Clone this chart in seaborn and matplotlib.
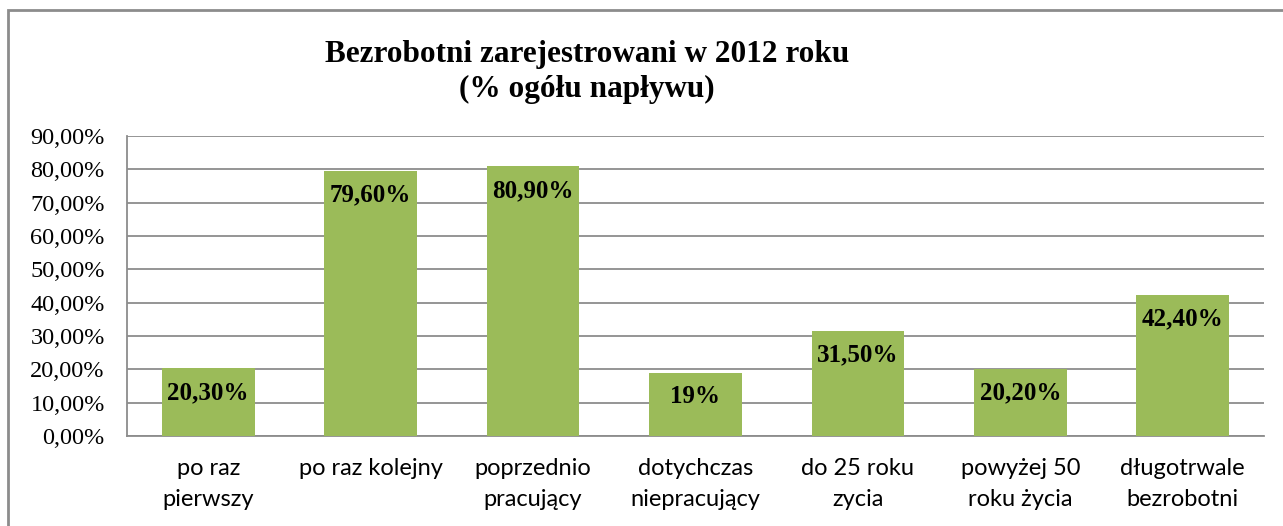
import pandas as pd
import matplotlib.pyplot as plt
import matplotlib.patches as mpatches
from matplotlib.ticker import FuncFormatter
import seaborn as sns

categories = ['po raz\npierwszy', 'po raz kolejny', 'poprzednio\npracujący',
              'dotychczas\nniepracujący', 'do 25 roku\nzycia',
              'powyżej 50\nroku życia', 'długotrwale\nbezrobotni']
values = [20.3, 79.6, 80.9, 19.0, 31.5, 20.2, 42.4]
value_labels = ['20,30%', '79,60%', '80,90%', '19%', '31,50%', '20,20%', '42,40%']
y_ticks = [0, 10, 20, 30, 40, 50, 60, 70, 80, 90]

df = pd.DataFrame({'kategoria': categories, 'procent': values})

sns.set_style('white')
plt.rcParams['text.color'] = 'black'
plt.rcParams['xtick.color'] = 'black'
plt.rcParams['ytick.color'] = 'black'
fig = plt.figure(figsize=(12.83, 5.26), dpi=100)
ax = fig.add_axes([127 / 1283, 1 - 436 / 526, (1264 - 127) / 1283, 300 / 526])

sns.barplot(data=df, x='kategoria', y='procent', color='#9BBB59',
            width=0.57, saturation=1, linewidth=0, ax=ax, zorder=3)

ax.set_ylim(0, 90)
ax.set_yticks(y_ticks)
ax.yaxis.set_major_formatter(FuncFormatter(lambda v, p: f'{v:.2f}'.replace('.', ',') + '%'))
ax.grid(axis='y', color='#8c8c8c', linewidth=1.3, zorder=0)
ax.set_xlabel('')
ax.set_ylabel('')
for s in ['top', 'right']:
    ax.spines[s].set_visible(False)
for s in ['left', 'bottom']:
    ax.spines[s].set_color('#8c8c8c')
    ax.spines[s].set_linewidth(1.3)
ax.tick_params(axis='y', length=0, pad=16, labelsize=17.5, labelcolor='black')
ax.tick_params(axis='x', length=0, pad=16, labelsize=17, labelcolor='black')
for t in ax.get_yticklabels():
    t.set_family('Liberation Serif')
for t in ax.get_xticklabels():
    t.set_family('Lato')
    t.set_linespacing(1.6)

for i, (v, lab) in enumerate(zip(values, value_labels)):
    ax.annotate(lab, (i, v), xytext=(0, -24), textcoords='offset pixels',
                ha='center', va='center', fontsize=18, fontweight='bold',
                family='Liberation Serif', color='black', zorder=4)

fig.text(587 / 1283, 1 - 72 / 526, 'Bezrobotni zarejestrowani w 2012 roku\n(% ogółu napływu)',
         ha='center', va='center', fontsize=22.5, fontweight='bold',
         family='Liberation Serif', color='black', linespacing=1.3)

fig.patches.append(mpatches.Rectangle((8 / 1283, -0.05), 1.1, 1 - 10 / 526 + 0.05,
                                      transform=fig.transFigure, fill=False,
                                      edgecolor='#8c8c8c', linewidth=2))

fig.savefig('out.png', dpi=100)
